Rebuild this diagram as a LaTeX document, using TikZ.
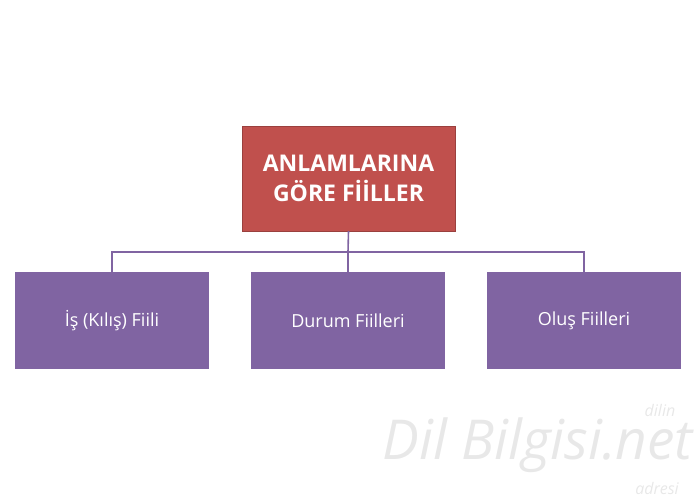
\documentclass[tikz,border=0pt]{standalone}
\usepackage{fontspec}
\setmainfont{Open Sans}
\definecolor{topred}{HTML}{C0504D}
\definecolor{leafpurple}{HTML}{8064A2}
\begin{document}
\begin{tikzpicture}[x=1pt,y=-1pt,
    topbox/.style={fill=topred,draw=topred!80!black,minimum width=213pt,minimum height=105pt,
      text=white,font=\fontsize{23}{30}\selectfont\bfseries,align=center},
    leafbox/.style={fill=leafpurple,minimum width=194pt,minimum height=97pt,
      text=white,font=\fontsize{18}{21}\selectfont},
    link/.style={draw=leafpurple,line width=1.6pt}]
  \useasboundingbox (0,0) rectangle (696,497);
  \node (root) [topbox] at (348.5,178.5) {ANLAMLARINA\\GÖRE FİİLLER};
  \node (is) [leafbox] at (112,320.5) {İş (Kılış) Fiili};
  \node (durum) [leafbox] at (348,320.5) {Durum Fiilleri};
  \node (olus) [leafbox] at (584,320.5) {Oluş Fiilleri};
  \coordinate (bar) at (348,252);
  \draw [link] (root.south) -- (bar);
  \draw [link] (is.north) |- (bar) -| (olus.north);
  \draw [link] (bar) -- (durum.north);
  % watermark
  \node (mark) [text=black!9,font=\fontsize{55}{55}\selectfont\itshape,inner sep=0pt] at (538,445) {Dil Bilgisi.net};
  \node [text=black!9,font=\fontsize{16}{16}\selectfont\itshape,inner sep=0pt] at (660,410) {dilin};
  \node [text=black!9,font=\fontsize{16}{16}\selectfont\itshape,inner sep=0pt] at (657,488) {adresi};
\end{tikzpicture}
\end{document}
